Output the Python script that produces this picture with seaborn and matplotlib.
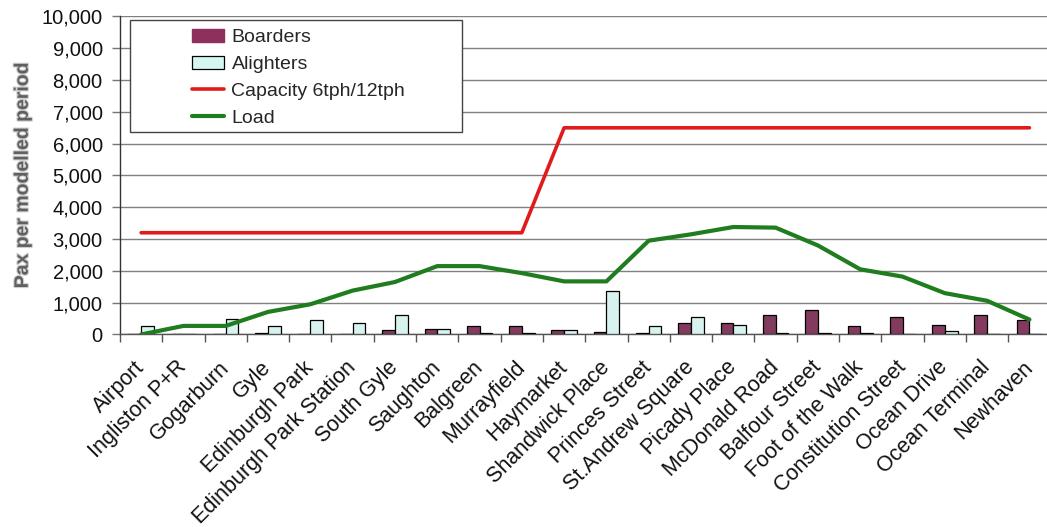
import numpy as np
import pandas as pd
import matplotlib
matplotlib.use("Agg")
import matplotlib.pyplot as plt
import matplotlib.patheffects as pe
import matplotlib.transforms as mtransforms
from matplotlib.patches import Rectangle, Patch
from matplotlib.lines import Line2D
from matplotlib.ticker import FuncFormatter, FixedLocator
import seaborn as sns

stops = [
    "Airport", "Ingliston P+R", "Gogarburn", "Gyle", "Edinburgh Park",
    "Edinburgh Park Station", "South Gyle", "Saughton", "Balgreen", "Murrayfield",
    "Haymarket", "Shandwick Place", "Princes Street", "St.Andrew Square",
    "Picady Place", "McDonald Road", "Balfour Street", "Foot of the Walk",
    "Constitution Street", "Ocean Drive", "Ocean Terminal", "Newhaven",
]
boarders = [0, 0, 0, 50, 0, 0, 140, 170, 260, 260, 130, 70,
            40, 350, 350, 600, 770, 260, 550, 300, 600, 470]
alighters = [260, 0, 480, 260, 440, 360, 600, 170, 50, 50, 130, 1380,
             260, 560, 300, 50, 50, 50, 0, 100, 0, 0]
capacity = [3200] * 10 + [6500] * 12
load = [0, 270, 270, 710, 950, 1380, 1650, 2150, 2150, 1930, 1670, 1670,
        2950, 3150, 3380, 3360, 2800, 2050, 1820, 1300, 1060, 470]

series_labels = ["Boarders", "Alighters", "Capacity 6tph/12tph", "Load"]
bar_colors = {"Boarders": "#8e2f5e", "Alighters": "#d4f7f2"}
cap_color = "#e01b1b"
load_color = "#1f7d1f"

sns.set_theme(style="white")
plt.rcParams["font.family"] = ["Liberation Sans", "DejaVu Sans"]

bars = pd.DataFrame({
    "stop": stops * 2,
    "pax": boarders + alighters,
    "kind": ["Boarders"] * len(stops) + ["Alighters"] * len(stops),
})

fig = plt.figure(figsize=(10.47, 5.27), dpi=100)
ax = fig.add_axes([0.1146, 0.3653, 0.8888, 0.6034])

sns.barplot(data=bars, x="stop", y="pax", hue="kind", order=stops,
            hue_order=["Boarders", "Alighters"], palette=bar_colors,
            width=0.6, gap=0, edgecolor="black", linewidth=0.9,
            legend=False, ax=ax, zorder=3)

xpos = np.arange(len(stops))
sns.lineplot(x=xpos, y=capacity, color=cap_color, linewidth=2.6, ax=ax,
             sort=False, zorder=4)
sns.lineplot(x=xpos, y=load, color=load_color, linewidth=3.0, ax=ax,
             sort=False, zorder=4)

ax.set_xlim(-0.5, len(stops) - 0.5)
ax.set_ylim(0, 10000)
ax.set_yticks(np.arange(0, 10001, 1000))
ax.yaxis.set_major_formatter(FuncFormatter(lambda v, p: f"{int(v):,}"))
ax.grid(axis="y", color="#808080", linewidth=1.0, zorder=0)
ax.grid(axis="x", visible=False)
ax.set_axisbelow(True)

ax.set_xticks(xpos)
ax.set_xticklabels(stops, rotation=45, ha="right", va="center",
                   rotation_mode="anchor", fontsize=15.5, color="#111111")
shift = mtransforms.ScaledTranslation(-4 / 72, 0, fig.dpi_scale_trans)
for lbl in ax.get_xticklabels():
    lbl.set_transform(lbl.get_transform() + shift)
ax.xaxis.set_minor_locator(FixedLocator(np.arange(-0.5, len(stops), 1.0)))
ax.tick_params(axis="x", which="major", length=0, pad=21.5)
ax.tick_params(axis="x", which="minor", length=6, width=1, color="#555555",
               direction="out", bottom=True)
ax.tick_params(axis="y", which="major", length=5.5, width=1, color="#777777",
               direction="out", left=True, pad=7, labelsize=14.5,
               labelcolor="#111111")

for side in ["top", "right"]:
    ax.spines[side].set_visible(False)
ax.spines["left"].set_color("#333333")
ax.spines["bottom"].set_color("#555555")
ax.spines["left"].set_linewidth(1.0)
ax.spines["bottom"].set_linewidth(1.0)

ax.set_xlabel("")
ax.set_ylabel("Pax per modelled period", fontsize=14, fontweight="bold",
              color="#606060", labelpad=7,
              path_effects=[pe.withStroke(linewidth=1.6, foreground="#cfcfcf")])

# legend box
W, H = 1047, 527
frame = Rectangle((130 / W, 1 - 132 / H), (462 - 130) / W, (132 - 20) / H,
                  transform=fig.transFigure, facecolor="white",
                  edgecolor="#444444", linewidth=1.0, zorder=6, clip_on=False)
ax.add_artist(frame)

handles = [
    Patch(facecolor=bar_colors["Boarders"], edgecolor=bar_colors["Boarders"]),
    Patch(facecolor=bar_colors["Alighters"], edgecolor="black", linewidth=0.9),
    Line2D([], [], color=cap_color, linewidth=2.6),
    Line2D([], [], color=load_color, linewidth=3.0),
]
leg = ax.legend(handles, series_labels, loc="upper left",
                bbox_to_anchor=(178 / W, 1 - 15 / H),
                bbox_transform=fig.transFigure, frameon=False,
                fontsize=14, handlelength=1.65, handleheight=0.7,
                handletextpad=0.4, labelspacing=0.48, borderpad=0.2)
leg.set_zorder(7)

fig.savefig("out.png", dpi=100)
